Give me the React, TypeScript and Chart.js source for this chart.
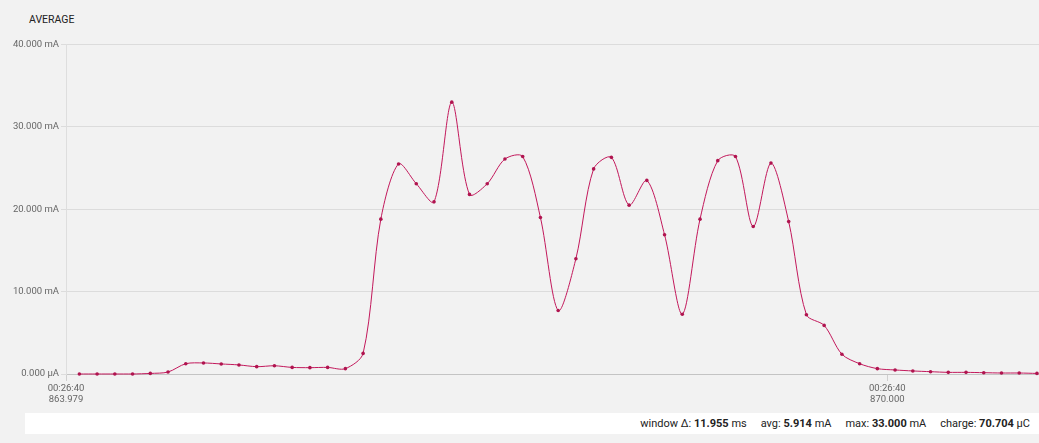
import React, { useEffect, useRef } from "react";
import { Chart, registerables } from "chart.js";

Chart.register(...registerables);

// ---- data ----
const CHART_TITLE = "AVERAGE";
const SAMPLE_START_MS = 864.077;
const SAMPLE_STEP_MS = 0.13;
const CURRENT_MA = [
  0, 0, 0, 0, 0.07, 0.24, 1.25, 1.34, 1.22, 1.1,
  0.89, 1.0, 0.8, 0.77, 0.8, 0.65, 2.5, 18.8, 25.5, 23.1,
  20.9, 33.0, 21.8, 23.1, 26.1, 26.4, 19.0, 7.7, 14.0, 24.9,
  26.3, 20.5, 23.5, 16.9, 7.26, 18.8, 25.9, 26.4, 17.9, 25.6,
  18.5, 7.2, 5.9, 2.4, 1.25, 0.65, 0.49, 0.37, 0.28, 0.2,
  0.2, 0.16, 0.12, 0.12, 0.07,
];
const Y_MIN = 0;
const Y_MAX = 40;
const Y_STEP = 10;
const X_MIN = 863.979;
const X_MAX = 871.112;
const X_TICK_VALUES = [863.979, 870.0];
const X_TICK_CLOCK = ["00:26:40", "00:26:40"];
const STAT_LABELS = ["window Δ:", "avg:", "max:", "charge:"];
const STAT_VALUES = ["11.955", "5.914", "33.000", "70.704"];
const STAT_UNITS = ["ms", "mA", "mA", "µC"];

const FONT = "Roboto, 'Liberation Sans', Arial, sans-serif";

export default function App() {
  const canvasRef = useRef<HTMLCanvasElement | null>(null);

  useEffect(() => {
    const canvas = canvasRef.current;
    if (!canvas) return;
    const points = CURRENT_MA.map((y, i) => ({ x: SAMPLE_START_MS + i * SAMPLE_STEP_MS, y }));
    const chart = new Chart(canvas, {
      type: "line",
      data: {
        datasets: [
          {
            data: points,
            borderColor: "#c2185b",
            borderWidth: 1,
            pointRadius: 1.8,
            pointBackgroundColor: "#b0144f",
            pointBorderWidth: 0,
            tension: 0.3,
            fill: false,
            clip: false,
          },
        ],
      },
      options: {
        animation: false,
        responsive: false,
        maintainAspectRatio: false,
        layout: { autoPadding: false, padding: { top: 44.5, left: 0, right: 0, bottom: 0 } },
        plugins: {
          legend: { display: false },
          tooltip: { enabled: false },
          title: { display: false },
        },
        scales: {
          x: {
            type: "linear",
            min: X_MIN,
            max: X_MAX,
            afterFit: (scale: any) => {
              scale.height = 36;
              scale.paddingLeft = 0;
              scale.paddingRight = 0;
            },
            afterBuildTicks: (scale: any) => {
              scale.ticks = X_TICK_VALUES.map((v) => ({ value: v }));
            },
            grid: {
              display: true,
              drawOnChartArea: false,
              drawTicks: true,
              tickLength: 7,
              color: "#d0d0d0",
            },
            border: { display: true, color: "#c4c4c4" },
            ticks: {
              autoSkip: false,
              maxRotation: 0,
              minRotation: 0,
              color: "#666666",
              padding: 2,
              font: { family: FONT, size: 9.5, lineHeight: 1.2 },
              callback: (value: any) => {
                const idx = X_TICK_VALUES.findIndex((v) => Math.abs(v - Number(value)) < 1e-6);
                const clock = idx >= 0 ? X_TICK_CLOCK[idx] : "";
                return [clock, Number(value).toFixed(3)];
              },
            },
          },
          y: {
            type: "linear",
            min: Y_MIN,
            max: Y_MAX,
            afterFit: (scale: any) => {
              scale.width = 66;
              scale.paddingTop = 0;
              scale.paddingBottom = 0;
            },
            grid: {
              display: true,
              color: "#dcdcdc",
              tickLength: 5,
            },
            border: { display: true, color: "#dedede" },
            ticks: {
              stepSize: Y_STEP,
              color: "#666666",
              padding: 2,
              font: { family: FONT, size: 9.5 },
              callback: (value: any) => {
                const v = Number(value);
                return v === 0 ? "0.000 µA" : v.toFixed(3) + " mA";
              },
            },
          },
        },
      },
    });
    return () => chart.destroy();
  }, []);

  return (
    <div
      style={{
        position: "fixed",
        left: 0,
        top: 0,
        width: 1039,
        height: 443,
        background: "#f2f2f2",
        fontFamily: FONT,
        overflow: "hidden",
      }}
    >
      <div
        style={{
          position: "absolute",
          left: 29,
          top: 13,
          fontSize: 10.5,
          color: "#222",
          letterSpacing: 0,
        }}
      >
        {CHART_TITLE}
      </div>
      <canvas
        ref={canvasRef}
        width={1039}
        height={410}
        style={{ position: "absolute", left: 0, top: 0, width: 1039, height: 410 }}
      />
      <div
        style={{
          position: "absolute",
          left: 25,
          top: 413,
          width: 1014,
          height: 21,
          background: "#ffffff",
          display: "flex",
          alignItems: "center",
          justifyContent: "flex-end",
          paddingRight: 9,
          boxSizing: "border-box",
          fontSize: 11,
          color: "#222",
        }}
      >
        {STAT_LABELS.map((label, i) => (
          <span key={label} style={{ marginLeft: i === 0 ? 0 : 14, whiteSpace: "nowrap" }}>
            {label} <b>{STAT_VALUES[i]}</b> {STAT_UNITS[i]}
          </span>
        ))}
      </div>
    </div>
  );
}
